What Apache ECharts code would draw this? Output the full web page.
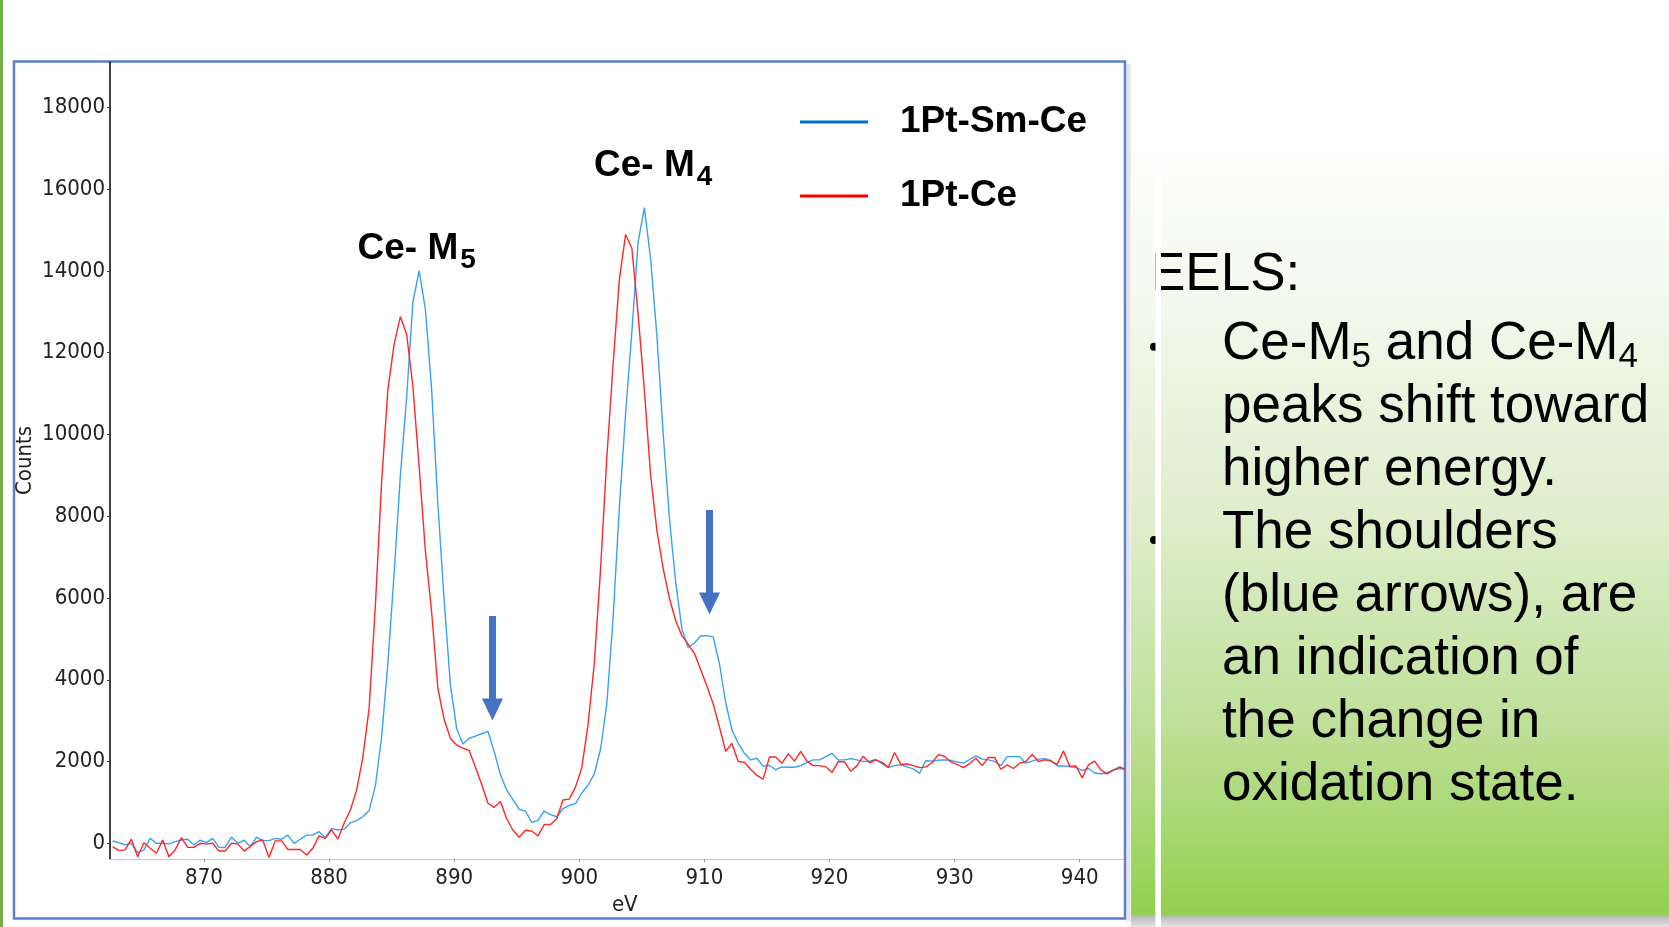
<!DOCTYPE html>
<html><head><meta charset="utf-8">
<script src="https://cdn.jsdelivr.net/npm/echarts@6/dist/echarts.min.js"></script>
<style>html,body{margin:0;padding:0;background:#fff;overflow:hidden}#c{width:1669px;height:927px}</style>
</head><body><div id="c"></div>
<script>
// Energy loss (eV) sampling points
const energies = [862.7,863.2,863.7,864.2,864.7,865.2,865.7,866.2,866.7,867.2,867.7,868.2,868.7,869.2,869.7,870.2,870.7,871.2,871.7,872.2,872.7,873.2,873.7,874.2,874.7,875.2,875.7,876.2,876.7,877.2,877.7,878.2,878.7,879.2,879.7,880.2,880.7,881.2,881.7,882.2,882.7,883.2,883.7,884.2,884.7,885.2,885.7,886.2,886.7,887.2,887.7,888.2,888.7,889.2,889.7,890.2,890.7,891.2,891.7,892.2,892.7,893.2,893.7,894.2,894.7,895.2,895.7,896.2,896.7,897.2,897.7,898.2,898.7,899.2,899.7,900.2,900.7,901.2,901.7,902.2,902.7,903.2,903.7,904.2,904.7,905.2,905.7,906.2,906.7,907.2,907.7,908.2,908.7,909.2,909.7,910.2,910.7,911.2,911.7,912.2,912.7,913.2,913.7,914.2,914.7,915.2,915.7,916.2,916.7,917.2,917.7,918.2,918.7,919.2,919.7,920.2,920.7,921.2,921.7,922.2,922.7,923.2,923.7,924.2,924.7,925.2,925.7,926.2,926.7,927.2,927.7,928.2,928.7,929.2,929.7,930.2,930.7,931.2,931.7,932.2,932.7,933.2,933.7,934.2,934.7,935.2,935.7,936.2,936.7,937.2,937.7,938.2,938.7,939.2,939.7,940.2,940.7,941.2,941.7,942.2,942.7,943.2,943.7];

// Counts, 1Pt-Sm-Ce (blue)
const ptSmCe = [57,16,-40,0,-230,-160,120,0,0,-15,40,80,100,-40,80,15,120,-100,-100,150,0,80,-80,150,65,65,120,100,200,0,100,200,200,285,140,360,330,340,500,555,650,800,1400,2600,4400,6600,9000,10900,13240,14000,13050,11090,8280,5940,3870,2810,2430,2570,2620,2680,2740,2240,1680,1300,1070,830,790,510,560,790,700,650,850,930,970,1230,1420,1700,2300,3400,5500,8200,10500,12500,14700,15550,14300,12430,10050,7970,6400,5250,4790,4900,5070,5080,5050,4400,3450,2770,2450,2200,2040,2080,1880,1910,1800,1870,1860,1860,1900,1980,2040,2040,2120,2200,2040,2040,2070,2040,2000,2010,2050,1950,1850,1900,1920,1870,1820,1710,2020,2010,2030,2040,2030,1990,1960,2050,2140,2060,2040,2000,1900,2120,2120,2120,1960,2010,2060,2070,2030,1890,1890,1880,1860,1780,1830,1720,1700,1720,1800,1830,1800];

// Counts, 1Pt-Ce (red)
const ptCe = [-80,-180,-160,100,-330,15,-120,-245,80,-330,-160,140,-100,-100,0,-20,0,-190,-190,0,-15,-190,-80,40,80,-350,60,60,-150,-150,-150,-285,-120,180,120,330,100,490,810,1300,2100,3300,5800,8840,11090,12210,12880,12450,11180,9210,7150,5650,3780,3030,2570,2400,2330,2270,1860,1440,980,880,1020,600,320,150,320,300,180,460,460,600,1060,1080,1380,1850,2900,4400,6700,9430,11700,13780,14890,14560,12950,11090,9010,7660,6730,6000,5450,5080,4870,4650,4250,3850,3410,2850,2250,2440,2000,1980,1810,1660,1570,2110,2110,1960,2190,2010,2250,2010,1900,1900,1870,1730,2000,1990,1760,1900,2130,1970,2040,1980,1860,2220,1930,1940,1900,1850,1870,1970,2170,2130,1990,1930,1850,1950,2080,1900,2100,2100,1810,1920,1830,1960,2000,2180,2000,2040,2010,1930,2260,1880,1890,1600,1920,2010,1790,1700,1790,1870,1800];

const seriesNames = ['1Pt-Sm-Ce', '1Pt-Ce'];
const yTicks = [0,2000,4000,6000,8000,10000,12000,14000,16000,18000];
const xTicks = [870,880,890,900,910,920,930,940];
// shoulder arrows: [eV, top count, head-centre count]
const arrows = [[893.06, 5560, 3273], [910.41, 8152, 5866]];
const peakLabels = [['Ce- M', '5'], ['Ce- M', '4']];
const bodyLines = ['peaks shift toward', 'higher energy.', 'The shoulders', '(blue arrows), are', 'an indication of', 'the change in', 'oxidation state.'];

const axisFont = "'DejaVu Sans Condensed','Liberation Sans Narrow','Open Sans',sans-serif";
const arial = "'Liberation Sans', Arial, sans-serif";

const chart = echarts.init(document.getElementById('c'), null, {renderer: 'canvas'});

const panelGrad = new echarts.graphic.LinearGradient(0, 0, 0, 1, [
  {offset: 0, color: '#ffffff'},
  {offset: 0.2, color: '#f5f9ef'},
  {offset: 0.5, color: '#deeecb'},
  {offset: 0.75, color: '#c0e09a'},
  {offset: 1, color: '#92d050'}
]);
const shadowGrad = new echarts.graphic.LinearGradient(0, 0, 0, 1, [
  {offset: 0, color: '#b4b4b4'},
  {offset: 1, color: '#e4e4e4'}
]);

const graphics = [
  {type: 'rect', shape: {x: 0, y: 0, width: 3, height: 927}, style: {fill: '#72ae48'}, silent: true},
  {type: 'rect', shape: {x: 1126.5, y: 64, width: 4, height: 857}, style: {fill: '#e4e4e4'}, silent: true},
  {type: 'rect', shape: {x: 14, y: 61.5, width: 1111, height: 857}, style: {fill: 'none', stroke: '#5b7fcf', lineWidth: 2.5}, silent: true},
  {type: 'rect', shape: {x: 1161, y: 130, width: 508, height: 785}, style: {fill: panelGrad}, silent: true},
  {type: 'text', x: 1150, y: 274.9, style: {text: 'EELS:', font: '53px ' + arial, fill: '#000', textAlign: 'left', textVerticalAlign: 'middle'}, silent: true},
  {type: 'rect', shape: {x: 1131, y: 130, width: 24.5, height: 785}, style: {fill: panelGrad}, silent: true},
  {type: 'rect', shape: {x: 1131, y: 915, width: 538, height: 12}, style: {fill: shadowGrad}, silent: true},
  {type: 'circle', shape: {cx: 1154, cy: 346.7, r: 4}, style: {fill: '#000'}, silent: true},
  {type: 'circle', shape: {cx: 1154, cy: 540, r: 4}, style: {fill: '#000'}, silent: true},
  {type: 'rect', shape: {x: 1155.5, y: 0, width: 5.5, height: 927}, style: {fill: '#ffffff'}, silent: true},
  {type: 'text', x: 1222, y: 314.6, style: {
      text: '{n|Ce-M}{s|5}{n| and Ce-M}{s|4}', textAlign: 'left', textVerticalAlign: 'top',
      rich: {
        n: {fontSize: 53, fontFamily: arial, color: '#000', lineHeight: 60},
        s: {fontSize: 35, fontFamily: arial, color: '#000', lineHeight: 35, verticalAlign: 'bottom'}
      }}, silent: true}
];
const baselines = [426, 489, 552, 615, 678, 741, 804];
bodyLines.forEach((t, i) => {
  graphics.push({type: 'text', x: 1222, y: baselines[i] - 18.4,
    style: {text: t, font: '53px ' + arial, fill: '#000', textAlign: 'left', textVerticalAlign: 'middle'}, silent: true});
});
const peakPos = [[357.5, 224], [594, 141]];
peakLabels.forEach((p, i) => {
  graphics.push({type: 'text', x: peakPos[i][0], y: peakPos[i][1], style: {
    text: '{n|' + p[0] + '}{s|' + p[1] + '}', textAlign: 'left', textVerticalAlign: 'top',
    rich: {
      n: {fontSize: 37, fontWeight: 'bold', fontFamily: arial, color: '#000', lineHeight: 50},
      s: {fontSize: 28, fontWeight: 'bold', fontFamily: arial, color: '#000', lineHeight: 28, verticalAlign: 'bottom', padding: [0, 0, 0, 2]}
    }}, silent: true});
});

const option = {
  animation: false,
  backgroundColor: '#ffffff',
  grid: {left: 110, top: 62, right: 545.5, bottom: 68, containLabel: false},
  legend: {
    orient: 'vertical', left: 795, top: 96, padding: 5,
    itemWidth: 68, itemHeight: 3, itemGap: 32, icon: 'rect', selectedMode: false,
    data: [
      {name: seriesNames[0], itemStyle: {color: '#0070C0'}},
      {name: seriesNames[1], itemStyle: {color: '#FF0000'}}
    ],
    textStyle: {fontSize: 37, fontWeight: 'bold', fontFamily: arial, color: '#000', lineHeight: 42, padding: [0, 0, 0, 27]}
  },
  xAxis: {
    type: 'value', min: 862.49, max: 943.5,
    axisLine: {show: true, onZero: false, lineStyle: {color: '#c8c8c8', width: 1}},
    axisTick: {show: true, length: 3, lineStyle: {color: '#999'}, customValues: xTicks},
    axisLabel: {customValues: xTicks, fontSize: 22, color: '#222', margin: 8, fontFamily: axisFont,
      formatter: v => String(v)},
    splitLine: {show: false},
    name: 'eV', nameLocation: 'middle', nameGap: 32,
    nameTextStyle: {fontSize: 22, color: '#222', fontFamily: axisFont, padding: [0, 0, 0, 16]}
  },
  yAxis: {
    type: 'value', min: -384, max: 19110,
    axisLine: {show: true, onZero: false, lineStyle: {color: '#000', width: 1.5}},
    axisTick: {show: true, length: 3, lineStyle: {color: '#333'}, customValues: yTicks},
    axisLabel: {customValues: yTicks, fontSize: 22, color: '#222', margin: 5, fontFamily: axisFont,
      formatter: v => String(v)},
    splitLine: {show: false},
    name: 'Counts', nameLocation: 'middle', nameGap: 74, nameRotate: 90, nameMoveOverlap: false,
    nameTextStyle: {fontSize: 22, color: '#222', fontFamily: axisFont}
  },
  series: [
    {
      name: seriesNames[0], type: 'line', showSymbol: false, symbol: 'none',
      data: energies.map((e, i) => [e, ptSmCe[i]]),
      lineStyle: {color: '#38a0f6', width: 1.4}, itemStyle: {color: '#38a0f6'},
      emphasis: {disabled: true}, z: 2,
      markLine: {
        silent: true, symbol: ['none', 'triangle'], symbolSize: [21, 22], animation: false,
        label: {show: false}, emphasis: {disabled: true},
        lineStyle: {color: '#4472C4', width: 7, type: 'solid'}, itemStyle: {color: '#4472C4'},
        data: arrows.map(a => [{coord: [a[0], a[1]]}, {coord: [a[0], a[2]]}])
      }
    },
    {
      name: seriesNames[1], type: 'line', showSymbol: false, symbol: 'none',
      data: energies.map((e, i) => [e, ptCe[i]]),
      lineStyle: {color: '#ff2626', width: 1.4}, itemStyle: {color: '#ff2626'},
      emphasis: {disabled: true}, z: 3
    }
  ],
  graphic: graphics
};
chart.setOption(option);
</script>
</body></html>
